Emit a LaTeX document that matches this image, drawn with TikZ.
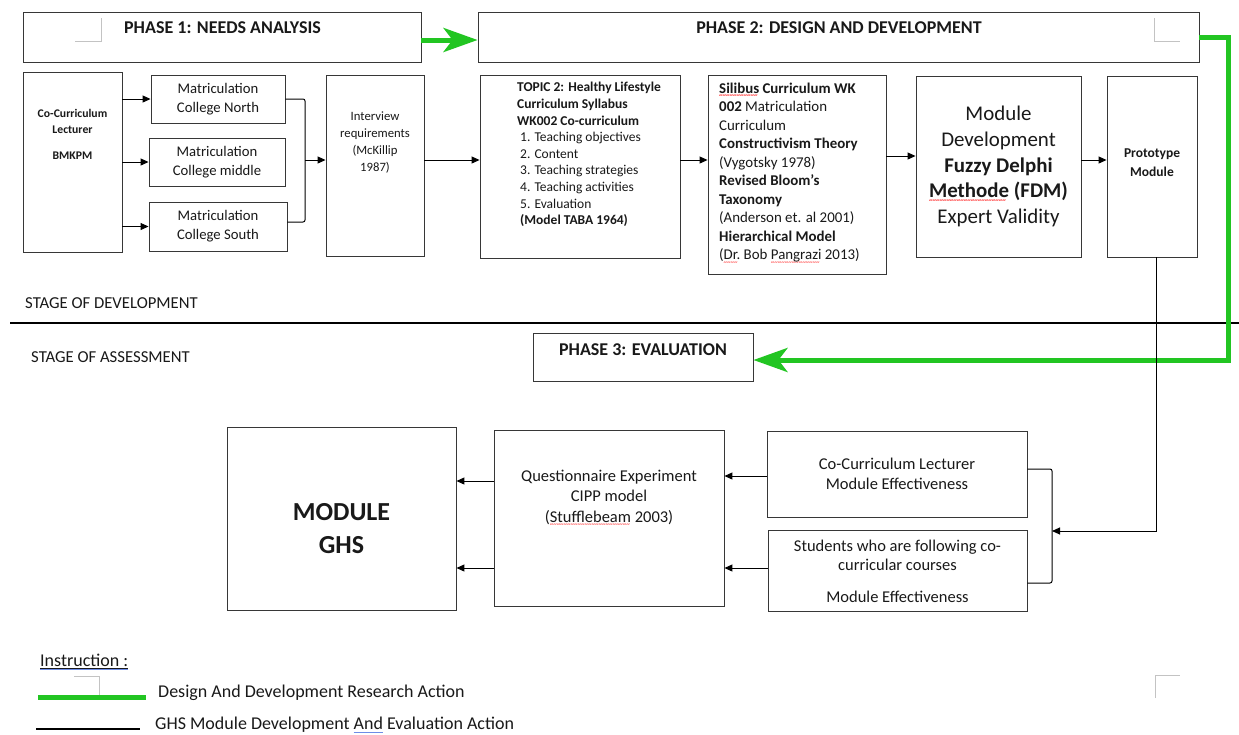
\documentclass[tikz,border=0pt]{standalone}
\usepackage{fontspec}
\setmainfont{Carlito}
\usetikzlibrary{arrows.meta}
\definecolor{flowgreen}{RGB}{34,197,34}
\definecolor{boxline}{RGB}{55,55,55}
\definecolor{markgrey}{RGB}{195,195,195}
\definecolor{textc}{RGB}{25,25,25}
\definecolor{gramblue}{RGB}{110,140,230}
\newcommand\spellerr[1]{\setbox0=\hbox{#1}\leavevmode\rlap{\textcolor{red}{\raisebox{-4.6pt}[0pt][0pt]{\fontsize{7}{7}\selectfont\leaders\hbox{\char"7E}\hskip\wd0}}}\box0\relax}
\newcommand\grammarul[1]{\setbox0=\hbox{#1}\leavevmode\rlap{\textcolor{gramblue}{\rule[-2.5pt]{\wd0}{0.7pt}}}\box0\relax}
\newcommand\fs[2]{\fontsize{#1}{#2}\selectfont}
\begin{document}
\begin{tikzpicture}[x=1pt,y=-1pt,
  box/.style={draw=boxline, line width=0.9pt, inner sep=0pt, fill=white},
  txt/.style={inner sep=0pt, align=center, text=textc},
  arr/.style={line width=1pt, draw=black, -{Triangle[length=8pt,width=7pt]}},
  link/.style={line width=1pt, draw=black},
  garr/.style={line width=5pt, draw=flowgreen, -{Stealth[length=34pt,width=24pt,inset=9pt]}},
  gline/.style={line width=5pt, draw=flowgreen},
  cornermark/.style={draw=markgrey, line width=0.9pt}]
\useasboundingbox (0,0) rectangle (1239,734);
\fill[white] (0,0) rectangle (1239,734);

% ---------- Phase headers ----------
\node[box, minimum width=398pt, minimum height=50pt] (p1) at (222,37) {};
\node[txt, font=\fs{18}{22}\bfseries] (p1t) at (222.5,28) {PHASE 1: NEEDS ANALYSIS};
\node[box, minimum width=721pt, minimum height=50pt] (p2) at (838.5,37) {};
\node[txt, font=\fs{18}{22}\bfseries] (p2t) at (839,28) {PHASE 2: DESIGN AND DEVELOPMENT};
\draw[cornermark] (75,41) -- (101,41) -- (101,18);
\draw[cornermark] (1154,18) -- (1154,41) -- (1180,41);

% ---------- Phase 1 content ----------
\node[box, minimum width=99pt, minimum height=180pt] (lect) at (72.5,162) {};
\node[txt, font=\fs{11.7}{16}\bfseries] (lectt) at (72.5,134) {Co-Curriculum\\Lecturer\\[10pt]BMKPM};
\node[box, minimum width=134pt, minimum height=48pt, align=center, text=textc, font=\fs{14.7}{19}] (north) at (218,99) {Matriculation\\College North};
\node[box, minimum width=136pt, minimum height=48pt, align=center, text=textc, font=\fs{14.7}{19}] (middle) at (217,162) {Matriculation\\College middle};
\node[box, minimum width=138pt, minimum height=49pt, align=center, text=textc, font=\fs{14.7}{19}] (south) at (218,226.5) {Matriculation\\College South};
\draw[arr] (lect.east |- north) -- (north.west);
\draw[arr] (lect.east |- middle) -- (middle.west);
\draw[arr] (lect.east |- south) -- (south.west);

\node[box, minimum width=98pt, minimum height=181pt] (interview) at (375,165.5) {};
\node[txt, font=\fs{12.7}{17}] (interviewt) at (375,143) {Interview\\requirements\\(McKillip\\1987)};
\coordinate (brx) at (305,160);
\draw[link, rounded corners=2pt] (north.east) -- (north.east -| brx) -- ([yshift=4.5pt]south.east -| brx) -- ([yshift=4.5pt]south.east);
\draw[arr] (brx) -- (brx -| interview.west);

% ---------- Phase 2 content ----------
\node[box, minimum width=200pt, minimum height=183pt] (topic) at (580,166.5) {};
\node[txt, align=left, anchor=west, font=\fs{13.5}{16.6}] (topict) at (517,154.5) {\textbf{TOPIC 2: Healthy Lifestyle}\\\textbf{Curriculum Syllabus}\\\textbf{WK002 Co-curriculum}\\\hspace*{3pt}1. Teaching objectives\\\hspace*{3pt}2. Content\\\hspace*{3pt}3. Teaching strategies\\\hspace*{3pt}4. Teaching activities\\\hspace*{3pt}5. Evaluation\\\hspace*{3pt}\textbf{(Model TABA 1964)}};
\draw[arr] ([yshift=5.5pt]interview.east) -- ([yshift=5.5pt]interview.east -| topic.west);

\node[box, minimum width=178pt, minimum height=199pt] (silibus) at (797,174.5) {};
\node[txt, align=left, anchor=west, font=\fs{14.9}{18.5}] (silibust) at (719,172.5) {\textbf{\spellerr{Silibus} Curriculum WK}\\\textbf{002} Matriculation\\Curriculum\\\textbf{Constructivism Theory}\\(Vygotsky 1978)\\\textbf{Revised Bloom's}\\\textbf{Taxonomy}\\(Anderson et. al 2001)\\\textbf{Hierarchical Model}\\(\spellerr{Dr.} Bob \spellerr{Pangrazi} 2013)};
\draw[arr] ([yshift=6.5pt]topic.east) -- ([yshift=6.5pt]topic.east -| silibus.west);

\node[box, minimum width=165pt, minimum height=181pt, align=center, text=textc, font=\fs{20.9}{25.8}] (moddev) at (998.5,166.5) {Module\\Development\\\textbf{Fuzzy Delphi}\\\textbf{\spellerr{Methode} (FDM)}\\Expert Validity};
\draw[arr] ([yshift=10.5pt]moddev.west -| silibus.east) -- ([yshift=10.5pt]moddev.west);

\node[box, minimum width=90pt, minimum height=181pt] (proto) at (1152,166.5) {};
\node[txt, font=\fs{13.5}{19}\bfseries] (protot) at (1152,162.5) {Prototype\\Module};
\draw[arr] ([yshift=6.5pt]moddev.east) -- ([yshift=6.5pt]moddev.east -| proto.west);

% ---------- Stage divider ----------
\node[txt, anchor=west, font=\fs{16.7}{20}] (stagedev) at (25,303) {STAGE OF DEVELOPMENT};
\node[txt, anchor=west, font=\fs{16.7}{20}] (stageass) at (31,357) {STAGE OF ASSESSMENT};
\coordinate (dL) at (10,323);
\coordinate (dR) at (1239,323);
\draw[line width=2.5pt, black] (dL) -- (dR);

% ---------- Phase 3 ----------
\node[box, minimum width=220pt, minimum height=48pt] (p3) at (643,357) {};
\node[txt, font=\fs{18}{22}\bfseries] (p3t) at (643,350) {PHASE 3: EVALUATION};

% ---------- green research-action flow ----------
\draw[garr] ([yshift=-3pt]p1.east) -- ([yshift=-3pt]p1.east -| p2.west);
\coordinate (gA) at (1228,37);
\coordinate (gB) at (1228,360);
\draw[garr] (p2.east) -- (gA) -- (gB) -- ([yshift=-3pt]p3.east);

% ---------- Evaluation stage ----------
\node[box, minimum width=229pt, minimum height=183pt] (ghs) at (341.5,518.5) {};
\node[txt, font=\fs{26}{33}\bfseries] (ghst) at (341.5,528.5) {MODULE\\GHS};
\node[box, minimum width=230pt, minimum height=176pt] (q) at (609,518) {};
\node[txt, font=\fs{16.5}{20.5}] (qt) at (609,497) {Questionnaire Experiment\\CIPP model\\(\spellerr{Stufflebeam} 2003)};
\node[box, minimum width=260pt, minimum height=86pt, align=center, text=textc, font=\fs{16.5}{20}] (cl) at (897,474) {Co-Curriculum Lecturer\\Module Effectiveness};
\node[box, minimum width=259pt, minimum height=81pt] (students) at (897.5,570.5) {};
\node[txt, font=\fs{16.5}{19}] (studentst) at (897.5,571.5) {Students who are following co-\\curricular courses\\[13pt]Module Effectiveness};

\draw[arr] ([yshift=37pt]q.west) -- ([yshift=37pt]q.west -| ghs.east);
\draw[arr] ([yshift=-50pt]q.west) -- ([yshift=-50pt]q.west -| ghs.east);
\draw[arr] ([yshift=-2pt]cl.west) -- ([yshift=-2pt]cl.west -| q.east);
\draw[arr] ([yshift=2.5pt]students.west) -- ([yshift=2.5pt]students.west -| q.east);

\coordinate (brr) at (1052,531);
\coordinate (bturn) at (1156,531);
\draw[link, rounded corners=2pt] ([yshift=5pt]cl.east) -- ([yshift=5pt]cl.east -| brr) -- ([yshift=-12.5pt]students.east -| brr) -- ([yshift=-12.5pt]students.east);
\draw[arr] ([xshift=4pt]proto.south) -- (bturn) -- (brr);

% ---------- Legend ----------
\node[txt, anchor=base west, font=\fs{18}{22}] (instr) at (40,666) {Instruction :};
\draw[line width=0.6pt, textc] ([yshift=-2pt]instr.base west) -- ([yshift=-2pt]instr.base east);
\draw[line width=0.6pt, gramblue] ([yshift=-3.6pt]instr.base west) -- ([yshift=-3.6pt]instr.base east);
\coordinate (lg1) at (38,697);
\coordinate (lg2) at (146,697);
\draw[cornermark] (74,676) -- (99,676) -- (99,697);
\draw[gline] (lg1) -- (lg2);
\node[txt, anchor=west, font=\fs{18}{22}] (leg1) at (158,693) {Design And Development Research Action};
\coordinate (lb1) at (36,729);
\coordinate (lb2) at (140,729);
\draw[line width=1.2pt, black] (lb1) -- (lb2);
\node[txt, anchor=west, font=\fs{18}{22}] (leg2) at (155,725) {GHS Module Development \grammarul{And} Evaluation Action};
\draw[cornermark] (1155,698) -- (1155,675) -- (1180,675);
\end{tikzpicture}
\end{document}
